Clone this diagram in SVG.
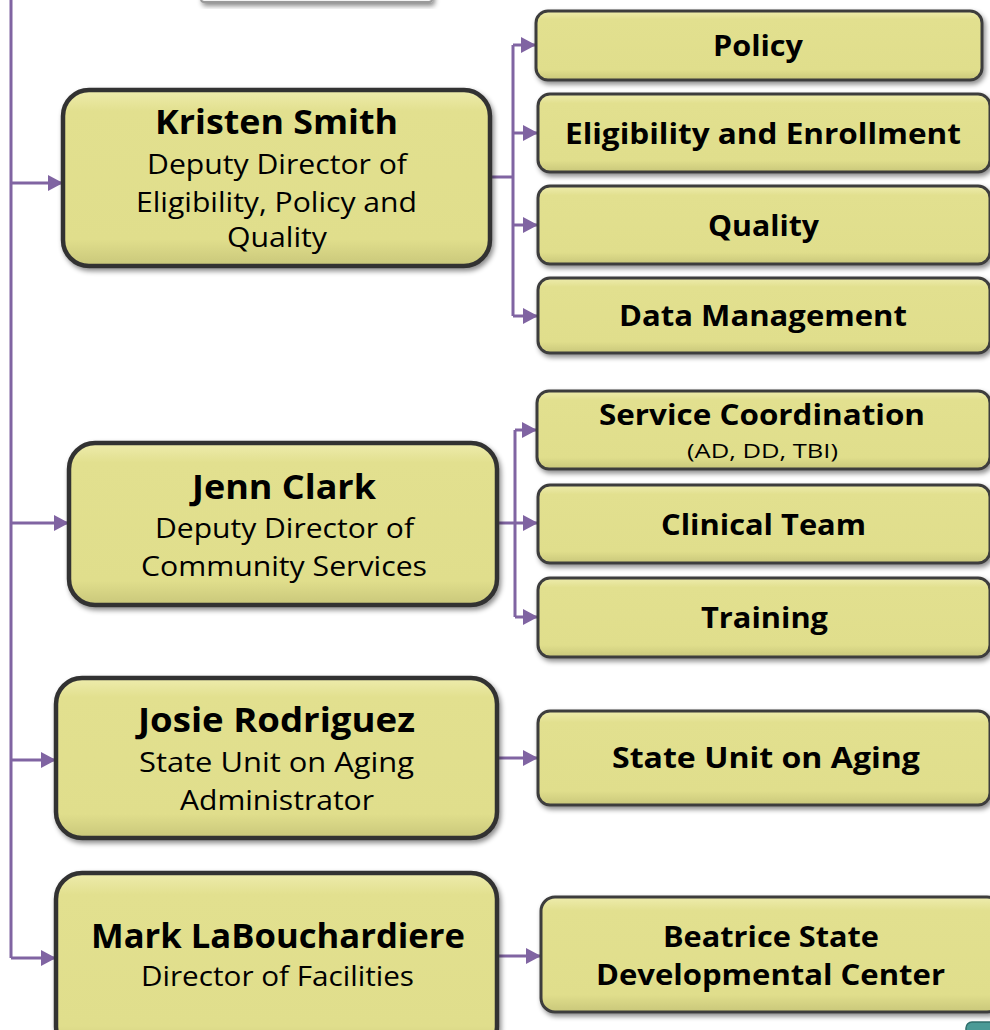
<svg xmlns="http://www.w3.org/2000/svg" width="990" height="1030" viewBox="0 0 990 1030">
<defs>
<linearGradient id="g" x1="0" y1="0" x2="0" y2="1">
<stop offset="0" stop-color="#eeecad"/>
<stop offset="0.12" stop-color="#e2e08f"/>
<stop offset="0.85" stop-color="#e0de8c"/>
<stop offset="1" stop-color="#c9c77a"/>
</linearGradient>
<filter id="sh" x="-10%" y="-10%" width="125%" height="130%">
<feDropShadow dx="2" dy="3" stdDeviation="2.5" flood-color="#000" flood-opacity="0.45"/>
</filter>
<marker id="ar" markerUnits="userSpaceOnUse" markerWidth="16" markerHeight="16" refX="15" refY="8" orient="auto">
<path d="M0,0 L15,8 L0,16 z" fill="#8064a2"/>
</marker>
<style>
.box{fill:url(#g);stroke:#333;stroke-width:4.5;filter:url(#sh)}
.sbox{fill:url(#g);stroke:#3c3c3c;stroke-width:3;filter:url(#sh)}
.ln{fill:none;stroke:#8064a2;stroke-width:3}
.ar{fill:none;stroke:#8064a2;stroke-width:3;marker-end:url(#ar)}
text{font-family:"Open Sans","Noto Sans","DejaVu Sans",sans-serif;fill:#000;text-anchor:middle}
.nm{font-size:34px;font-weight:700}
.t{font-size:28px;font-weight:400}
.s{font-size:28px;font-weight:700}
.sm{font-size:20px;font-weight:400}
</style>
</defs>

<g id="top-node">
<rect x="201" y="-30" width="231" height="32" rx="3" fill="#f4f4f4" stroke="#9a9a9a" stroke-width="2" filter="url(#sh)"/>
</g>

<g id="connectors">
<path class="ln" d="M11,0 V958"/>
<path class="ar" d="M11,183 H63"/>
<path class="ar" d="M11,523 H69"/>
<path class="ar" d="M11,760 H56"/>
<path class="ar" d="M11,958 H56"/>
<path class="ln" d="M490,177 H513 M513,45 V316"/>
<path class="ar" d="M513,45 H536"/>
<path class="ar" d="M513,133 H538"/>
<path class="ar" d="M513,225 H538"/>
<path class="ar" d="M513,316 H538"/>
<path class="ln" d="M497,523 H515 M515,430 V617"/>
<path class="ar" d="M515,430 H537"/>
<path class="ar" d="M515,523 H538"/>
<path class="ar" d="M515,617 H538"/>
<path class="ar" d="M497,758 H538"/>
<path class="ar" d="M497,956 H541"/>
</g>

<g id="kristen">
<rect class="box" x="63" y="90" width="427" height="176" rx="26"/>
<text class="nm" x="276.5" y="134" textLength="243" lengthAdjust="spacingAndGlyphs">Kristen Smith</text>
<text class="t" x="277" y="174" textLength="260" lengthAdjust="spacingAndGlyphs">Deputy Director of</text>
<text class="t" x="276.5" y="212" textLength="281" lengthAdjust="spacingAndGlyphs">Eligibility, Policy and</text>
<text class="t" x="277" y="247" textLength="100" lengthAdjust="spacingAndGlyphs">Quality</text>
</g>

<g id="policy">
<rect class="sbox" x="536" y="11" width="446" height="69" rx="12"/>
<text class="s" x="758" y="56" textLength="90" lengthAdjust="spacingAndGlyphs">Policy</text>
</g>
<g id="eligibility">
<rect class="sbox" x="538" y="94" width="452" height="78" rx="12"/>
<text class="s" x="763" y="144" textLength="396" lengthAdjust="spacingAndGlyphs">Eligibility and Enrollment</text>
</g>
<g id="quality">
<rect class="sbox" x="538" y="186" width="452" height="78" rx="12"/>
<text class="s" x="763.5" y="236" textLength="111" lengthAdjust="spacingAndGlyphs">Quality</text>
</g>
<g id="data-management">
<rect class="sbox" x="538" y="278" width="452" height="75" rx="12"/>
<text class="s" x="763" y="326" textLength="288" lengthAdjust="spacingAndGlyphs">Data Management</text>
</g>

<g id="jenn">
<rect class="box" x="69" y="443" width="428" height="162" rx="26"/>
<text class="nm" x="284" y="499" textLength="184" lengthAdjust="spacingAndGlyphs">Jenn Clark</text>
<text class="t" x="284.5" y="538" textLength="259" lengthAdjust="spacingAndGlyphs">Deputy Director of</text>
<text class="t" x="284" y="576" textLength="286" lengthAdjust="spacingAndGlyphs">Community Services</text>
</g>

<g id="service-coordination">
<rect class="sbox" x="537" y="391" width="453" height="78" rx="12"/>
<text class="s" x="762" y="425" textLength="326" lengthAdjust="spacingAndGlyphs">Service Coordination</text>
<text class="sm" x="762.5" y="458" textLength="151" lengthAdjust="spacingAndGlyphs">(AD, DD, TBI)</text>
</g>
<g id="clinical-team">
<rect class="sbox" x="538" y="485" width="452" height="78" rx="12"/>
<text class="s" x="763.5" y="535" textLength="205" lengthAdjust="spacingAndGlyphs">Clinical Team</text>
</g>
<g id="training">
<rect class="sbox" x="538" y="578" width="452" height="79" rx="12"/>
<text class="s" x="764.5" y="628" textLength="127" lengthAdjust="spacingAndGlyphs">Training</text>
</g>

<g id="josie">
<rect class="box" x="56" y="678" width="441" height="160" rx="26"/>
<text class="nm" x="276.5" y="732" textLength="277" lengthAdjust="spacingAndGlyphs">Josie Rodriguez</text>
<text class="t" x="276.5" y="772" textLength="275" lengthAdjust="spacingAndGlyphs">State Unit on Aging</text>
<text class="t" x="277" y="810" textLength="194" lengthAdjust="spacingAndGlyphs">Administrator</text>
</g>
<g id="state-unit-on-aging">
<rect class="sbox" x="538" y="711" width="452" height="94" rx="12"/>
<text class="s" x="766" y="768" textLength="308" lengthAdjust="spacingAndGlyphs">State Unit on Aging</text>
</g>

<g id="mark">
<rect class="box" x="56" y="873" width="441" height="180" rx="26"/>
<text class="nm" x="278" y="948" textLength="374" lengthAdjust="spacingAndGlyphs">Mark LaBouchardiere</text>
<text class="t" x="277.5" y="986" textLength="273" lengthAdjust="spacingAndGlyphs">Director of Facilities</text>
</g>
<g id="beatrice">
<rect class="sbox" x="541" y="897" width="460" height="115" rx="14"/>
<text class="s" x="771" y="947" textLength="216" lengthAdjust="spacingAndGlyphs">Beatrice State</text>
<text class="s" x="770.5" y="985" textLength="349" lengthAdjust="spacingAndGlyphs">Developmental Center</text>
</g>

<g id="partial-node">
<rect x="966" y="1022" width="40" height="20" rx="6" fill="#4a9a96" stroke="#2f6f6c" stroke-width="1.5"/>
</g>
</svg>
